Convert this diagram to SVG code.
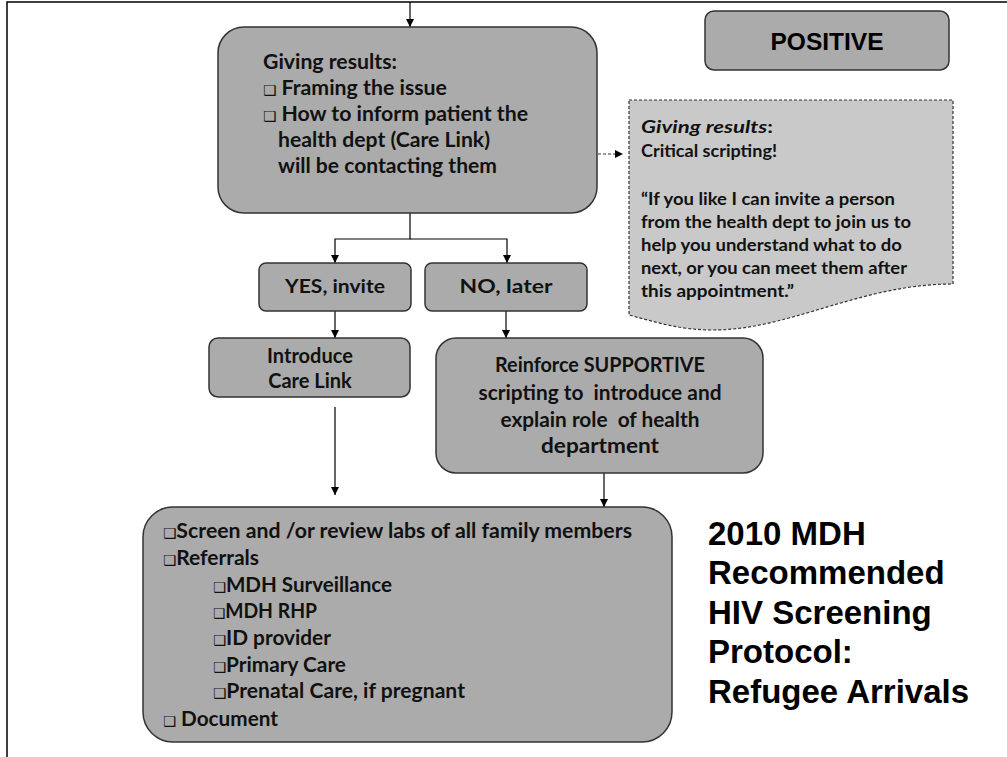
<svg xmlns="http://www.w3.org/2000/svg" width="1007" height="757" viewBox="0 0 1007 757">
<defs>
<marker id="ah" viewBox="0 0 10 10" refX="10" refY="5" markerWidth="8" markerHeight="8" markerUnits="userSpaceOnUse" orient="auto">
<path d="M0,0 L10,5 L0,10 Z" fill="#000"/>
</marker>
<style>
.box{fill:#ababab;stroke:#333;stroke-width:1.5}
.call{fill:#c9c9c9;stroke:#333;stroke-width:1.2;stroke-dasharray:3,2}
.t{font-family:Lato,"Open Sans","DejaVu Sans",sans-serif;font-weight:bold;fill:#111}
.m{font-size:20px}
.s{font-size:16.5px}
.c{text-anchor:middle}
.sq{font-family:"DejaVu Sans",sans-serif;font-size:14px}
.a{font-family:"Liberation Sans",Arial,sans-serif;font-weight:bold;fill:#000}
.ln{fill:none;stroke:#000;stroke-width:1.2}
.dl{fill:none;stroke:#333;stroke-width:1.2;stroke-dasharray:3,2}
.pre{white-space:pre}
</style>
</defs>
<rect x="0" y="0" width="1007" height="757" fill="#fff"/>
<path d="M7,757 V2 H1007" fill="none" stroke="#000" stroke-width="1.5"/>

<g id="connectors">
<line class="ln" x1="410" y1="2" x2="410" y2="27" marker-end="url(#ah)"/>
<polyline class="ln" points="410,213 410,239 335,239 335,263" marker-end="url(#ah)"/>
<polyline class="ln" points="410,239 507,239 507,263" marker-end="url(#ah)"/>
<line class="ln" x1="335" y1="311" x2="335" y2="338" marker-end="url(#ah)"/>
<line class="ln" x1="506" y1="311" x2="506" y2="338" marker-end="url(#ah)"/>
<line class="ln" x1="335" y1="407" x2="335" y2="495" marker-end="url(#ah)"/>
<line class="ln" x1="604" y1="473" x2="604" y2="507" marker-end="url(#ah)"/>
<line class="dl" x1="598" y1="154" x2="623" y2="154" marker-end="url(#ah)"/>
</g>

<g id="giving-results">
<rect class="box" x="218" y="27" width="379" height="186" rx="26"/>
<text class="t m" x="263" y="69" textLength="134" lengthAdjust="spacingAndGlyphs">Giving results:</text>
<text class="t m" x="263" y="95" textLength="184" lengthAdjust="spacingAndGlyphs"><tspan class="sq">❑</tspan> Framing the issue</text>
<text class="t m" x="263" y="121" textLength="265" lengthAdjust="spacingAndGlyphs"><tspan class="sq">❑</tspan> How to inform patient the</text>
<text class="t m" x="278" y="147" textLength="212" lengthAdjust="spacingAndGlyphs">health dept (Care Link)</text>
<text class="t m" x="278" y="173" textLength="219" lengthAdjust="spacingAndGlyphs">will be contacting them</text>
</g>

<g id="positive">
<rect class="box" x="705" y="11" width="244" height="59" rx="9"/>
<text class="a c" x="827" y="50" font-size="24.5">POSITIVE</text>
</g>

<g id="callout">
<path class="call" d="M629,100 H953 V284 C860,284 790,330 713,330 C680,330 655,322 629,315 Z"/>
<text class="t s" x="641" y="133" textLength="132" lengthAdjust="spacingAndGlyphs"><tspan font-style="italic">Giving results</tspan>:</text>
<text class="t s" x="641" y="157" textLength="136" lengthAdjust="spacingAndGlyphs">Critical scripting!</text>
<text class="t s" x="641" y="205" textLength="254" lengthAdjust="spacingAndGlyphs">“If you like I can invite a person</text>
<text class="t s" x="641" y="228" textLength="270" lengthAdjust="spacingAndGlyphs">from the health dept to join us to</text>
<text class="t s" x="641" y="251" textLength="261" lengthAdjust="spacingAndGlyphs">help you understand what to do</text>
<text class="t s" x="641" y="274" textLength="266" lengthAdjust="spacingAndGlyphs">next, or you can meet them after</text>
<text class="t s" x="641" y="297" textLength="153" lengthAdjust="spacingAndGlyphs">this appointment.”</text>
</g>

<g id="yes">
<rect class="box" x="259" y="263" width="152" height="48" rx="7"/>
<text class="t c" x="335" y="293" font-size="19.5" textLength="100" lengthAdjust="spacingAndGlyphs">YES, invite</text>
</g>

<g id="no">
<rect class="box" x="425" y="263" width="162" height="48" rx="7"/>
<text class="t c" x="506" y="293" font-size="19.5" textLength="93" lengthAdjust="spacingAndGlyphs">NO, later</text>
</g>

<g id="introduce">
<rect class="box" x="209" y="338" width="201" height="59" rx="9"/>
<text class="t m c" x="310" y="363">Introduce</text>
<text class="t m c" x="310" y="388">Care Link</text>
</g>

<g id="reinforce">
<rect class="box" x="436" y="338" width="327" height="135" rx="20"/>
<text class="t m c pre" x="600" y="372" textLength="210" lengthAdjust="spacingAndGlyphs">Reinforce SUPPORTIVE</text>
<text class="t m c pre" x="600" y="400" textLength="243" lengthAdjust="spacingAndGlyphs">scripting to  introduce and</text>
<text class="t m c pre" x="600" y="427" textLength="199" lengthAdjust="spacingAndGlyphs">explain role  of health</text>
<text class="t m c pre" x="600" y="453" textLength="118" lengthAdjust="spacingAndGlyphs">department</text>
</g>

<g id="followup">
<rect class="box" x="143" y="507" width="529" height="235" rx="30"/>
<text class="t m" x="163" y="538" textLength="469" lengthAdjust="spacingAndGlyphs"><tspan class="sq">❑</tspan>Screen and /or review labs of all family members</text>
<text class="t m" x="163" y="565" textLength="96" lengthAdjust="spacingAndGlyphs"><tspan class="sq">❑</tspan>Referrals</text>
<text class="t m" x="213" y="592" textLength="179" lengthAdjust="spacingAndGlyphs"><tspan class="sq">❑</tspan>MDH Surveillance</text>
<text class="t m" x="213" y="618" textLength="104" lengthAdjust="spacingAndGlyphs"><tspan class="sq">❑</tspan>MDH RHP</text>
<text class="t m" x="213" y="645" textLength="118" lengthAdjust="spacingAndGlyphs"><tspan class="sq">❑</tspan>ID provider</text>
<text class="t m" x="213" y="672" textLength="133" lengthAdjust="spacingAndGlyphs"><tspan class="sq">❑</tspan>Primary Care</text>
<text class="t m" x="213" y="698" textLength="252" lengthAdjust="spacingAndGlyphs"><tspan class="sq">❑</tspan>Prenatal Care, if pregnant</text>
<text class="t m" x="163" y="726" textLength="115" lengthAdjust="spacingAndGlyphs"><tspan class="sq">❑</tspan> Document</text>
</g>

<g id="title">
<text class="a" font-size="33" x="708" y="545">2010 MDH</text>
<text class="a" font-size="33" x="708" y="584">Recommended</text>
<text class="a" font-size="33" x="708" y="624">HIV Screening</text>
<text class="a" font-size="33" x="708" y="663">Protocol:</text>
<text class="a" font-size="33" x="708" y="703">Refugee Arrivals</text>
</g>
</svg>
